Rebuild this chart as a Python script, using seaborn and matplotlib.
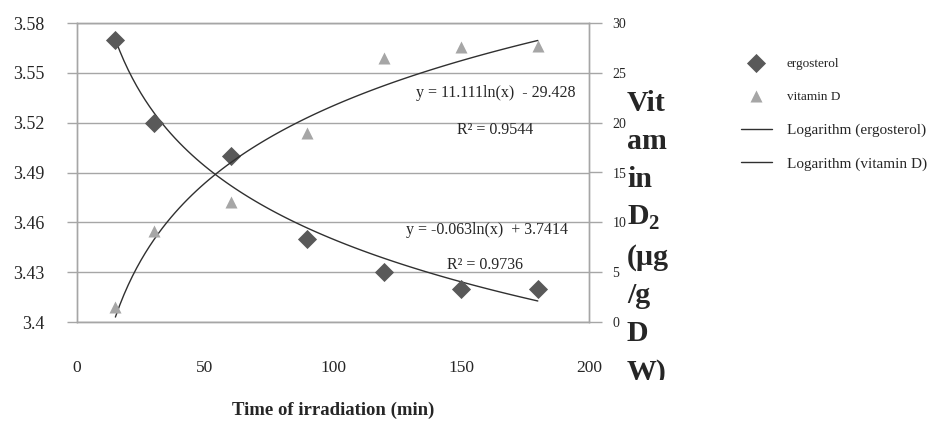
import seaborn as sns
import matplotlib.pyplot as plt
import pandas as pd
import numpy as np
from matplotlib.transforms import Bbox, TransformedBbox

# datos
time_min = [15, 30, 60, 90, 120, 150, 180]
ergosterol = [3.57, 3.52, 3.50, 3.45, 3.43, 3.42, 3.42]
vitamin_d = [1.5, 9.1, 12.0, 19.0, 26.5, 27.6, 27.7]

left_ticks = [3.4, 3.43, 3.46, 3.49, 3.52, 3.55, 3.58]
left_labels = ["3.4", "3.43", "3.46", "3.49", "3.52", "3.55", "3.58"]
right_ticks = [0, 5, 10, 15, 20, 25, 30]
x_ticks = [0, 50, 100, 150, 200]

eq_ergo = "y = -0.063ln(x)  + 3.7414"
r2_ergo = "R² = 0.9736"
eq_vitd = "y = 11.111ln(x)  - 29.428"
r2_vitd = "R² = 0.9544"

df = pd.DataFrame({"time": time_min, "ergosterol": ergosterol, "vitamin_d": vitamin_d})

sns.set_style("white")
plt.rcParams["font.family"] = ["Liberation Serif", "DejaVu Serif"]
plt.rcParams["mathtext.fontset"] = "custom"
plt.rcParams["mathtext.rm"] = "Liberation Serif"
plt.rcParams["mathtext.bf"] = "Liberation Serif:bold"

grey = "#a6a6a6"
dark = "#595959"
light = "#a6a6a6"

fig = plt.figure(figsize=(9.53, 4.23), dpi=100)
ax = fig.add_axes([77 / 953, 1 - 322 / 423, 512 / 953, 299 / 423])
ax2 = ax.twinx()

# puntos
sns.scatterplot(data=df, x="time", y="ergosterol", ax=ax, marker="D", s=95,
                color=dark, edgecolor=dark, linewidth=0, label="ergosterol", zorder=3)
sns.scatterplot(data=df, x="time", y="vitamin_d", ax=ax2, marker="^", s=75,
                color=light, edgecolor=light, linewidth=0, label="vitamin D", zorder=3)

# lineas de tendencia logaritmica
sns.regplot(data=df, x="time", y="ergosterol", ax=ax, logx=True, ci=None, scatter=False,
            label="Logarithm (ergosterol)", line_kws={"color": "#303030", "lw": 1})
sns.regplot(data=df, x="time", y="vitamin_d", ax=ax2, logx=True, ci=None, scatter=False,
            label="Logarithm (vitamin D)", line_kws={"color": "#303030", "lw": 1})

for a in (ax, ax2):
    leg = a.get_legend()
    if leg is not None:
        leg.remove()

ax.set_xlim(0, 200)
ax.set_ylim(3.4, 3.58)
ax2.set_ylim(0, 30)
ax.set_xticks(x_ticks)
ax.set_yticks(left_ticks)
ax.set_yticklabels(left_labels)
ax2.set_yticks(right_ticks)

ax.grid(axis="y", color=grey, lw=1)
ax.grid(axis="x", visible=False)
ax2.grid(False)
ax.set_axisbelow(True)

for a in (ax, ax2):
    for sp in a.spines.values():
        sp.set_color(grey)
        sp.set_linewidth(1)

ax.tick_params(axis="y", left=True, length=7.5, width=1, color=grey, pad=16, labelsize=13)
ax.tick_params(axis="x", bottom=False, length=0, pad=27, labelsize=12.5)
ax2.tick_params(axis="y", right=True, length=9, width=1, color=grey, pad=8, labelsize=10)

ax.set_xlabel("Time of irradiation (min)", fontsize=13.5, fontweight="bold", labelpad=19)
ax.set_ylabel("")
ax2.set_ylabel("")

# ecuaciones
ax.text(0.818, 0.766, eq_vitd, transform=ax.transAxes, ha="center", va="center", fontsize=11.5)
ax.text(0.816, 0.642, r2_vitd, transform=ax.transAxes, ha="center", va="center", fontsize=11.5)
ax.text(0.80, 0.308, eq_ergo, transform=ax.transAxes, ha="center", va="center", fontsize=11.5)
ax.text(0.797, 0.191, r2_ergo, transform=ax.transAxes, ha="center", va="center", fontsize=11.5)

# titulo del eje derecho, partido como en el original (cortado abajo)
right_label = "Vit\nam\nin\nD$_\\mathbf{2}$\n(µg\n/g\nD\nW)"
t = fig.text(627 / 953, 1 - 90 / 423, right_label, ha="left", va="top",
             fontsize=21.5, fontweight="bold", linespacing=1.53)
t.set_clip_on(True)
t.set_clip_box(TransformedBbox(Bbox([[0.6, (423 - 380) / 423], [0.8, 1.0]]), fig.transFigure))

# leyenda
h1, l1 = ax.get_legend_handles_labels()
h2, l2 = ax2.get_legend_handles_labels()
handles = [h1[0], h2[0], h1[1], h2[1]]
labels = [l1[0], l2[0], l1[1], l2[1]]
leg = fig.legend(handles, labels, loc="upper left", bbox_to_anchor=(735 / 953, 1 - 50 / 423),
                 frameon=False, fontsize=11, labelspacing=1.3, handlelength=2.0,
                 handletextpad=1.0, borderaxespad=0)
leg.get_texts()[0].set_fontsize(9.5)
leg.get_texts()[1].set_fontsize(9.5)

fig.savefig("out.png", dpi=100)
